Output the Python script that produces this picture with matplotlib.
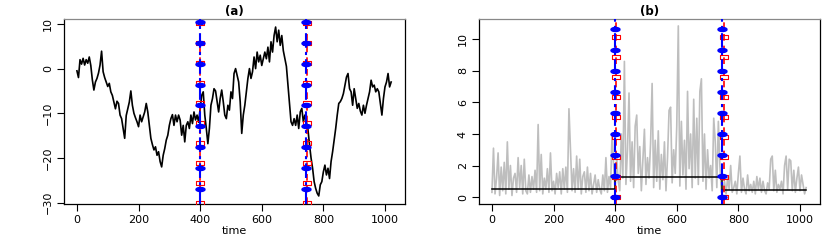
import numpy as np
import matplotlib
matplotlib.use('Agg')
import matplotlib.pyplot as plt

# --- данные (шаг по времени 5) ---
step = 5

series_a = [
    -0.5, -2.0, 2.0, 1.0, 2.3, 0.8, 2.0, 1.2, 2.6, 0.7,
    -2.5, -4.8, -3.0, -2.2, -1.0, 0.8, 3.9, -0.7, -2.0, -3.0,
    -4.0, -3.3, -5.2, -6.0, -7.5, -9.0, -7.3, -7.8, -10.4, -11.2,
    -13.4, -15.6, -10.5, -9.0, -7.5, -5.0, -8.2, -10.0, -11.0, -11.9,
    -13.0, -10.4, -11.9, -10.8, -9.7, -7.8, -9.7, -12.7, -15.6, -17.0,
    -18.2, -17.5, -19.4, -18.6, -20.8, -22.0, -19.4, -17.9, -16.0, -14.9,
    -12.7, -11.2, -10.3, -12.7, -10.4, -11.9, -10.4, -11.5, -14.9, -12.7,
    -16.4, -12.7, -11.9, -13.4, -10.4, -12.3, -9.7, -11.5, -10.4, -12.0,
    -9.0, -6.0, -5.2, -10.4, -13.4, -16.8, -13.4, -8.2, -6.7, -4.5,
    -5.0, -7.4, -9.7, -6.7, -4.8, -7.4, -10.4, -11.2, -8.2, -9.3,
    -5.2, -6.7, -1.1, 0.0, -1.5, -3.0, -7.4, -14.5, -10.4, -8.2,
    -5.2, -2.2, 0.0, -2.2, -0.7, 2.6, 0.0, 3.7, 1.5, 3.0,
    0.7, 2.2, 3.7, 2.2, 4.8, 1.5, 6.0, 3.7, 7.4, 9.3,
    6.0, 8.6, 5.2, 7.4, 4.0, 2.2, 0.5, -3.7, -8.2, -11.9,
    -12.7, -11.2, -12.7, -10.4, -13.4, -9.7, -8.9, -11.9, -10.4, -12.0,
    -13.7, -17.0, -20.0, -22.3, -25.3, -26.8, -27.9, -28.5, -26.0, -25.3,
    -23.1, -21.6, -23.8, -22.3, -24.6, -20.8, -18.6, -16.0, -13.4, -10.4,
    -7.8, -7.4, -6.7, -5.6, -3.7, -1.9, -1.1, -4.5, -5.2, -8.2,
    -4.5, -6.7, -8.9, -7.8, -9.5, -10.4, -8.2, -10.0, -8.2, -6.7,
    -5.2, -2.6, -4.1, -3.7, -5.2, -4.5, -5.2, -7.8, -10.4, -6.7,
    -4.1, -3.0, -1.1, -4.1, -3.0,
]

series_b = [
    0.3, 3.1, 0.2, 1.2, 2.8, 0.1, 1.9, 0.4, 2.2, 0.2,
    3.5, 0.5, 2.0, 0.1, 1.2, 1.5, 0.3, 2.5, 0.6, 2.0,
    0.2, 2.4, 0.4, 0.2, 1.4, 0.3, 1.3, 0.5, 1.7, 0.3,
    4.6, 0.4, 2.7, 0.2, 1.2, 0.5, 1.8, 0.3, 2.8, 0.4,
    1.0, 0.2, 1.5, 0.6, 1.6, 0.2, 1.8, 0.5, 1.9, 0.3,
    5.6, 3.0, 0.4, 1.8, 0.3, 2.6, 0.5, 2.4, 0.2, 1.3,
    1.6, 0.3, 1.9, 0.4, 1.5, 0.2, 0.8, 1.4, 0.3, 1.1,
    0.5, 0.2, 1.4, 0.4, 2.5, 0.3, 1.3, 0.6, 4.0, 2.0,
    0.5, 2.5, 1.0, 0.4, 4.0, 1.2, 8.6, 0.8, 3.0, 6.6,
    1.0, 3.5, 0.6, 4.5, 5.2, 1.5, 3.2, 0.4, 2.3, 4.3,
    0.8, 2.5, 1.2, 3.4, 7.2, 0.6, 3.6, 1.0, 4.2, 0.5,
    2.7, 1.1, 3.5, 0.4, 2.5, 5.5, 5.7, 0.9, 3.0, 1.5,
    4.5, 10.85, 0.7, 4.8, 1.4, 3.6, 0.5, 6.7, 1.8, 4.0,
    0.6, 6.2, 1.2, 5.0, 0.8, 6.7, 7.5, 1.0, 4.0, 0.5,
    3.0, 1.2, 2.0, 0.4, 5.0, 3.5, 0.6, 4.8, 2.0, 0.3,
    0.4, 1.0, 0.2, 1.2, 0.5, 2.0, 0.3, 0.6, 1.0, 0.2,
    1.5, 2.6, 0.3, 1.2, 0.5, 0.2, 1.4, 0.4, 0.8, 0.3,
    1.0, 0.2, 1.3, 0.5, 1.2, 0.3, 1.0, 0.4, 0.2, 0.9,
    0.5, 2.4, 2.6, 0.4, 1.7, 0.3, 0.8, 0.5, 1.0, 0.2,
    2.0, 2.6, 0.5, 2.4, 2.3, 0.4, 1.7, 0.3, 1.2, 1.9,
    0.4, 1.4, 0.8, 0.2, 0.6,
]

# ступенчатая оценка среднего (панель b)
seg_bounds = [0, 400, 748, 1020]
seg_means = [0.5, 1.25, 0.45]

# точки разладки: красные (пунктир, квадраты), синие (штрих-пунктир, кружки)
red_cp_a = [400, 748]
blue_cp_a = [400, 745]
red_cp_b = [402, 752]
blue_cp_b = [400, 747]

red_marks_a = [-30.0, -25.5, -21.1, -16.6, -12.2, -7.7, -3.2, 1.2, 5.7, 10.2]
blue_marks_a = [-26.9, -22.2, -17.6, -12.9, -8.2, -3.6, 1.1, 5.8, 10.4]
red_marks_b = [0.0, 1.27, 2.54, 3.81, 5.07, 6.34, 7.61, 8.88, 10.15]
blue_marks_b = [0.0, 1.33, 2.66, 4.0, 5.33, 6.66, 8.0, 9.32, 10.65]

x_ticks = [0, 200, 400, 600, 800, 1000]
y_ticks_a = [-30, -20, -10, 0, 10]
y_ticks_b = [0, 2, 4, 6, 8, 10]

time_a = np.arange(len(series_a)) * step
time_b = np.arange(len(series_b)) * step

# --- оформление ---
plt.rcParams['font.family'] = 'DejaVu Sans'

# сплюснутые маркеры (картинка растянута по горизонтали)
ang = np.linspace(0, 2 * np.pi, 40)
ellipse = list(zip(np.cos(ang), 0.45 * np.sin(ang)))
sq = [(-1, -0.6), (1, -0.6), (1, 0.6), (-1, 0.6), (-1, -0.6)]

fig = plt.figure(figsize=(8.3, 2.42), dpi=100)
ax_a = fig.add_axes([64 / 830, 38 / 242, 341 / 830, 185 / 242])
ax_b = fig.add_axes([479 / 830, 38 / 242, 341 / 830, 185 / 242])


def draw_cps(ax, red_cp, blue_cp, red_marks, blue_marks):
    for cp in red_cp:
        ax.axvline(cp, color='red', linestyle=(0, (4, 3)), linewidth=1.2, zorder=3)
        ax.plot([cp] * len(red_marks), red_marks, linestyle='none', marker=sq,
                markersize=5.5, markerfacecolor='none', markeredgecolor='red',
                markeredgewidth=0.8, zorder=4)
    for cp in blue_cp:
        ax.axvline(cp, color='blue', linestyle=(0, (7, 2, 1.5, 2)), linewidth=1.5, zorder=5)
        ax.plot([cp] * len(blue_marks), blue_marks, linestyle='none', marker=ellipse,
                markersize=6.5, color='blue', zorder=6)


def style_axes(ax, yticks):
    ax.set_xticks(x_ticks)
    ax.set_yticks(yticks)
    ax.tick_params(direction='out', length=5, width=0.8, labelsize=8, pad=3)
    ax.tick_params(axis='y', labelrotation=90)
    for lab in ax.get_yticklabels():
        lab.set_verticalalignment('center')
    for s in ax.spines.values():
        s.set_linewidth(0.9)
    ax.spines['top'].set_color('#888888')
    ax.set_xlabel('time', fontsize=8, labelpad=1)


# панель (a)
ax_a.plot(time_a, series_a, color='black', linewidth=1.2, zorder=2)
draw_cps(ax_a, red_cp_a, blue_cp_a, red_marks_a, blue_marks_a)
ax_a.set_xlim(-42, 1065)
ax_a.set_ylim(-30.3, 11.1)
style_axes(ax_a, y_ticks_a)
ax_a.set_title('(a)', fontsize=8.5, fontweight='bold', pad=3)

# панель (b)
ax_b.plot(time_b, series_b, color='#bebebe', linewidth=1.2, zorder=1)
for i in range(len(seg_means)):
    ax_b.plot([seg_bounds[i], seg_bounds[i + 1]], [seg_means[i]] * 2,
              color='black', linewidth=1.1, zorder=2)
    if i > 0:
        ax_b.plot([seg_bounds[i]] * 2, [seg_means[i - 1], seg_means[i]],
                  color='black', linewidth=1.1, zorder=2)
draw_cps(ax_b, red_cp_b, blue_cp_b, red_marks_b, blue_marks_b)
ax_b.set_xlim(-42, 1065)
ax_b.set_ylim(-0.44, 11.29)
style_axes(ax_b, y_ticks_b)
ax_b.set_title('(b)', fontsize=8.5, fontweight='bold', pad=3)

fig.savefig('out.png', dpi=100)
